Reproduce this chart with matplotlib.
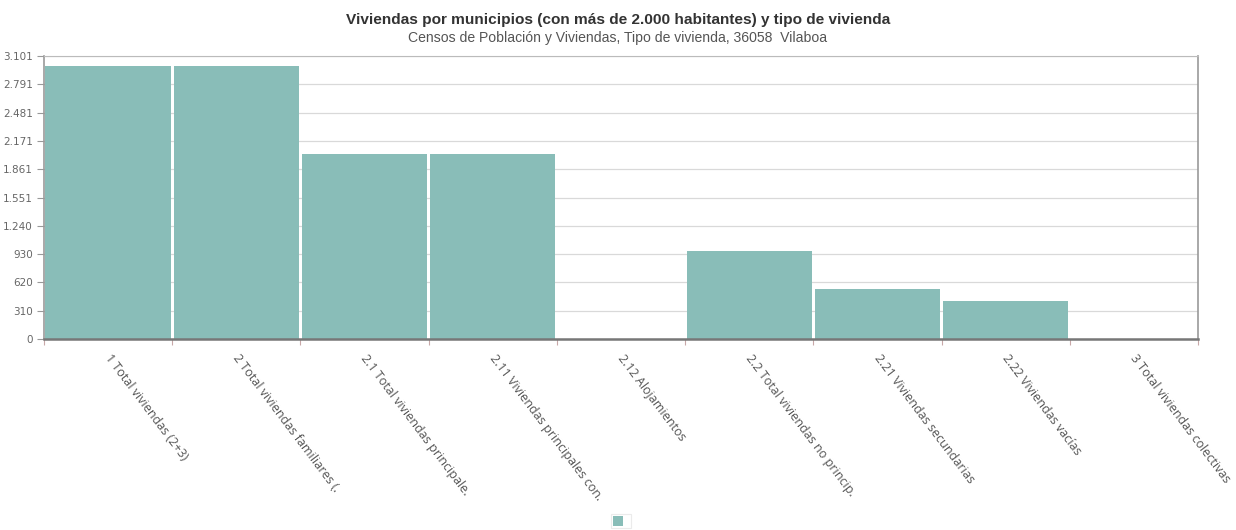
import math
import matplotlib
matplotlib.use("Agg")
import matplotlib.pyplot as plt
from matplotlib.patches import Patch
from matplotlib.ticker import FixedLocator, FuncFormatter
import matplotlib.transforms as mtransforms

categories = [
    "1 Total viviendas (2+3)",
    "2 Total viviendas familiares (.",
    "2.1 Total viviendas principale.",
    "2.11 Viviendas principales con.",
    "2.12 Alojamientos",
    "2.2 Total viviendas no princip.",
    "2.21 Viviendas secundarias",
    "2.22 Viviendas vacías",
    "3 Total viviendas colectivas",
]
values = [2990, 2990, 2025, 2025, 0, 965, 547, 418, 0]
ymax = 3101

title = "Viviendas por municipios (con más de 2.000 habitantes) y tipo de vivienda"
subtitle = "Censos de Población y Viviendas, Tipo de vivienda, 36058  Vilaboa"

bar_color = "#89bdb8"

fig = plt.figure(figsize=(12.36, 5.30), dpi=100)
ax = fig.add_axes([44/1236, 1-339/530, (1198-44)/1236, (339-56)/530])

x = list(range(len(categories)))
ax.bar(x, values, width=0.978, color=bar_color, edgecolor="none", zorder=2)
ax.set_xlim(-0.5, len(categories) - 0.5)
ax.set_ylim(0, ymax)

yt = [ymax * k / 10 for k in range(11)]
ax.yaxis.set_major_locator(FixedLocator(yt))
ax.yaxis.set_major_formatter(FuncFormatter(lambda v, p: f"{int(math.floor(v + 0.5)):,}".replace(",", ".")))
ax.tick_params(axis="y", labelsize=7.5, colors="#666666", length=5, width=0.8, pad=3,
               color="#999999", labelfontfamily="DejaVu Sans")
ax.grid(axis="y", color="#d9d9d9", linewidth=0.9, zorder=0)

ax.set_xticks([i + 0.5 for i in range(-1, len(categories))])
ax.set_xticklabels([])
ax.tick_params(axis="x", length=4, color="#c8a8a8", width=0.8)

for s in ["left", "right", "bottom", "top"]:
    ax.spines[s].set_color("#999999")
    ax.spines[s].set_linewidth(1.2)
ax.spines["top"].set_color("#bbbbbb")
ax.spines["top"].set_linewidth(0.8)
ax.spines["bottom"].set_color("#777777")
ax.spines["bottom"].set_linewidth(1.8)

offset = mtransforms.ScaledTranslation(-1/100, -17/100, fig.dpi_scale_trans)
for i, lab in enumerate(categories):
    ax.text(i, 0, lab, transform=mtransforms.blended_transform_factory(ax.transData, ax.transAxes) + offset,
            rotation=-53, rotation_mode="anchor", ha="left", va="center",
            fontsize=9, color="#555555", family="Open Sans")

fig.text(0.5, 1-20/530, title, ha="center", va="center", fontsize=11.1,
         fontweight="bold", color="#333333", family="Liberation Sans")
fig.text(0.5, 1-38/530, subtitle, ha="center", va="center", fontsize=10.1,
         color="#555555", family="Liberation Sans")

leg = fig.legend(handles=[Patch(facecolor=bar_color, edgecolor="none")], labels=[" "],
                 loc="center", bbox_to_anchor=(621/1236, 1-521/530), frameon=True,
                 handlelength=0.9, handleheight=1.0, handletextpad=0.3, fontsize=8,
                 borderpad=0.15, borderaxespad=0, fancybox=False)
leg.get_frame().set_edgecolor("#e6e6e6")
leg.get_frame().set_linewidth(0.8)

fig.savefig("out.png", dpi=100, facecolor="white")
